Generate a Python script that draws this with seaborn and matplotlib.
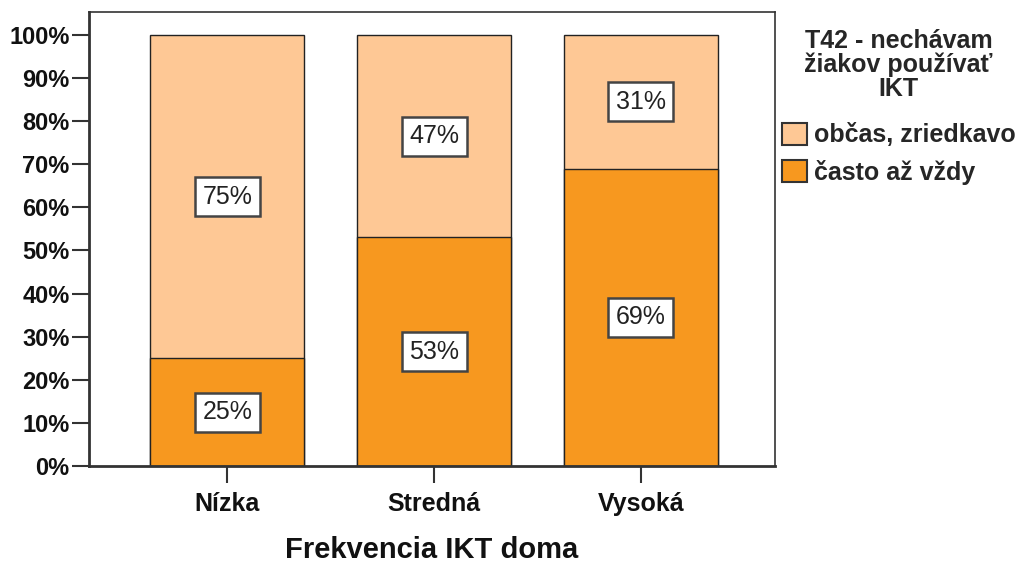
import matplotlib
matplotlib.use("Agg")
import matplotlib.pyplot as plt
import seaborn as sns
import pandas as pd
from matplotlib.patches import Patch

categories = ["Nízka", "Stredná", "Vysoká"]
often = [25, 53, 69]          # často až vždy
rarely = [75, 47, 31]         # občas, zriedkavo
series_names = ["občas, zriedkavo", "často až vždy"]
yticks = [0, 10, 20, 30, 40, 50, 60, 70, 80, 90, 100]

light = "#FEC895"
dark = "#F7981F"

sns.set_style("white")
plt.rcParams["font.family"] = ["Liberation Sans", "DejaVu Sans"]

df = pd.DataFrame({"cat": categories, "often": often, "rarely": rarely})
df["total"] = df["often"] + df["rarely"]

fig = plt.figure(figsize=(10.29, 5.65), dpi=100)
ax = fig.add_axes([89/1029, 1-466/565, (775-89)/1029, (466-12)/565])

sns.barplot(data=df, x="cat", y="total", color=light, edgecolor="#222222",
            linewidth=1, width=0.745, ax=ax, saturation=1)
sns.barplot(data=df, x="cat", y="often", color=dark, edgecolor="#222222",
            linewidth=1, width=0.745, ax=ax, saturation=1)

box = dict(boxstyle="square,pad=0.3", facecolor="white", edgecolor="#444444", linewidth=1.8)
for i, (o, r) in enumerate(zip(often, rarely)):
    ax.text(i, o / 2, f"{o}%", ha="center", va="center", fontsize=18, color="#222222", bbox=box)
    ax.text(i, o + r / 2, f"{r}%", ha="center", va="center", fontsize=18, color="#222222", bbox=box)

ax.set_ylim(0, 105.3)
ax.set_xlim(-0.67, 2.65)
ax.set_yticks(yticks)
ax.set_yticklabels([f"{t}%" for t in yticks], fontsize=17, fontweight="bold", color="#111111")
ax.set_xticks(range(len(categories)))
ax.set_xticklabels(categories, fontsize=18, fontweight="bold", color="#111111")
ax.tick_params(axis="y", direction="out", length=12.5, width=1.5, color="#333333", left=True, pad=1.5)
ax.tick_params(axis="x", direction="out", length=12, width=1.5, color="#333333", bottom=True, pad=7)
ax.set_xlabel("Frekvencia IKT doma", fontsize=21, fontweight="bold", labelpad=14, color="#111111")
ax.set_ylabel("")
for s in ["left", "bottom"]:
    ax.spines[s].set_linewidth(2)
    ax.spines[s].set_color("#333333")
for s in ["top", "right"]:
    ax.spines[s].set_linewidth(1.2)
    ax.spines[s].set_color("#333333")

handles = [Patch(facecolor=light, edgecolor="#333333", linewidth=1.5, label=series_names[0]),
           Patch(facecolor=dark, edgecolor="#333333", linewidth=1.5, label=series_names[1])]
leg = fig.legend(handles=handles, title="T42 - nechávam\nžiakov používať\nIKT",
                 loc="upper left", bbox_to_anchor=(779/1029, 1-26/565),
                 frameon=False, prop=dict(size=18, weight="bold"),
                 title_fontproperties=dict(size=18, weight="bold"),
                 handlelength=1.0, handleheight=1.0, handletextpad=0.3,
                 labelspacing=0.5, borderaxespad=0, borderpad=0.1)
leg._legend_box.align = "center"
leg._legend_box.sep = 15.5
leg.get_title().set_multialignment("center")
leg.get_title().set_linespacing(1.0)

fig.savefig("out.png", dpi=100)
